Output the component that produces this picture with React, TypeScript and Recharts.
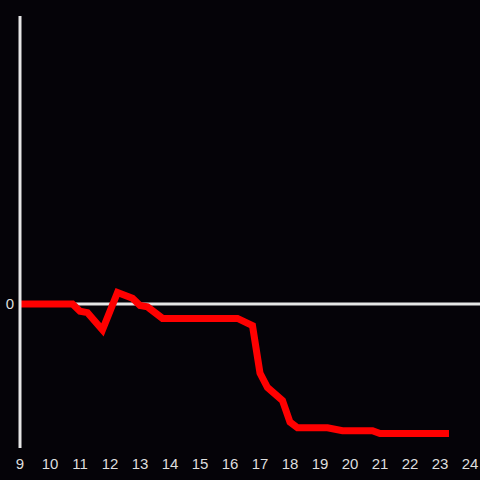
import { Line, LineChart, ReferenceLine, XAxis, YAxis } from "recharts";

const hours = [9, 10.75, 11, 11.25, 11.75, 12.25, 12.75, 13, 13.25, 13.75, 16.25, 16.75, 17, 17.25, 17.75, 18, 18.25, 19.25, 19.75, 20.75, 21, 23.3];
const values = [0, 0, -0.05, -0.06, -0.18, 0.08, 0.04, -0.01, -0.02, -0.1, -0.1, -0.15, -0.48, -0.58, -0.67, -0.82, -0.86, -0.86, -0.88, -0.88, -0.9, -0.9];
const xTicks = [9, 10, 11, 12, 13, 14, 15, 16, 17, 18, 19, 20, 21, 22, 23, 24];
const yTicks = [0];

const data = hours.map((h, i) => ({ hour: h, value: values[i] }));

const labelStyle = { fontSize: "15px", fontFamily: "'Liberation Sans', Arial, sans-serif", fill: "#dedede" };

const XTick = (props: any) => {
  const { x, y, payload } = props;
  return (
    <text x={x} y={y + 13} textAnchor="middle" style={labelStyle}>
      {payload.value}
    </text>
  );
};

const YTick = (props: any) => {
  const { x, y, payload } = props;
  return (
    <text x={x} y={y + 5} textAnchor="end" style={labelStyle}>
      {payload.value}
    </text>
  );
};

const App = () => {
  return (
    <div style={{ position: "fixed", left: 0, top: 0, width: 480, height: 480, background: "#050308" }}>
      <LineChart width={480} height={480} data={data} margin={{ top: 16, right: 0, bottom: 0, left: 0 }}>
        <XAxis
          dataKey="hour"
          type="number"
          domain={[9, 24 + 1 / 3]}
          ticks={xTicks}
          axisLine={false}
          tickLine={false}
          height={32}
          interval={0}
          tick={<XTick />}
        />
        <YAxis
          type="number"
          domain={[-1, 2]}
          ticks={yTicks}
          width={20}
          axisLine={{ stroke: "#e6e6e6", strokeWidth: 3 }}
          tickLine={false}
          tickSize={4}
          tick={<YTick />}
        />
        <ReferenceLine y={0} stroke="#e6e6e6" strokeWidth={3} />
        <Line
          type="linear"
          dataKey="value"
          stroke="#ff0000"
          strokeWidth={7}
          dot={false}
          isAnimationActive={false}
        />
      </LineChart>
    </div>
  );
};

export default App;
